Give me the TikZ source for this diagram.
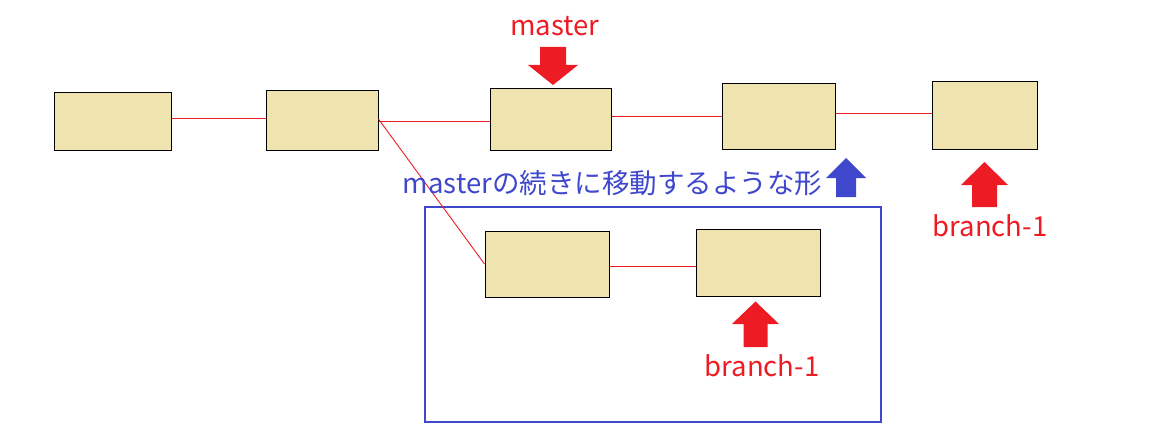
\documentclass[tikz,border=0pt]{standalone}
\usepackage{fontspec}
\setmainfont{Noto Sans CJK JP}
\definecolor{boxfill}{HTML}{EFE4B0}
\definecolor{linkred}{HTML}{ED1C24}
\definecolor{noteblue}{HTML}{3F48CC}

\tikzset{
  commitbox/.style={draw=black, fill=boxfill, line width=1pt, inner sep=0pt},
  link/.style={draw=linkred, line width=0.9pt},
  label/.style={font=\fontsize{27.5}{32}\selectfont, inner sep=0pt},
}

\begin{document}
\begin{tikzpicture}[x=1pt, y=-1pt]
  \useasboundingbox (0,0) rectangle (1159,441);

  % main line
  \node[commitbox, minimum width=117pt, minimum height=58pt] (c1) at (112.5,122) {};
  \node[commitbox, minimum width=112pt, minimum height=60pt] (c2) at (322,121) {};
  \node[commitbox, minimum width=121pt, minimum height=62pt] (c3) at (550.5,120) {};
  \node[commitbox, minimum width=113pt, minimum height=66pt] (c4) at (778.5,117) {};
  \node[commitbox, minimum width=105pt, minimum height=68pt] (c5) at (984.5,116) {};

  % moved branch
  \node[draw=noteblue, line width=1.1pt, minimum width=456pt, minimum height=215pt,
        inner sep=0pt] (frame) at (653,314.5) {};
  \node[commitbox, minimum width=124pt, minimum height=66pt] (b1) at (547,264) {};
  \node[commitbox, minimum width=124pt, minimum height=67pt] (b2) at (758,262.5) {};

  \draw[link] ([yshift=4pt]c1.east) -- ([yshift=4pt]c1.east -| c2.west);
  \draw[link] (c2.east) -- (c2.east -| c3.west);
  \draw[link] ([yshift=4pt]c3.east) -- ([yshift=4pt]c3.east -| c4.west);
  \draw[link] ([yshift=4pt]c4.east) -- ([yshift=4pt]c4.east -| c5.west);
  \draw[link] ([yshift=2pt]c2.east) -- (b1.west);
  \draw[link] ([yshift=-2pt]b1.east) -- ([yshift=-2pt]b1.east -| b2.west);

  % pointers (tip first)
  \coordinate (pmaster) at (553,85);
  \coordinate (pmove) at (846,158);
  \coordinate (pbranch) at (984.5,162);
  \coordinate (pbranchnew) at (755.5,301.5);
  \fill[linkred] (pmaster) -- ++(25,-20) -- ++(-12,0) -- ++(0,-18) -- ++(-26,0)
    -- ++(0,18) -- ++(-12,0) -- cycle;
  \fill[noteblue] (pmove) -- ++(20,20) -- ++(-10,0) -- ++(0,19) -- ++(-20,0)
    -- ++(0,-19) -- ++(-10,0) -- cycle;
  \fill[linkred] (pbranch) -- ++(23.5,23) -- ++(-11,0) -- ++(0,22) -- ++(-25,0)
    -- ++(0,-22) -- ++(-11,0) -- cycle;
  \fill[linkred] (pbranchnew) -- ++(23.5,22.5) -- ++(-11.5,0) -- ++(0,23) -- ++(-24,0)
    -- ++(0,-23) -- ++(-11.5,0) -- cycle;

  % labels
  \node[label, text=linkred] (tmaster) at (555,26) {master};
  \node[label, text=linkred] (tbranch) at (990,226) {branch-1};
  \node[label, text=linkred] (tbranchnew) at (762,366) {branch-1};
  \node[label, text=noteblue] (tnote) at (612.5,183) {masterの続きに移動するような形};
\end{tikzpicture}
\end{document}
